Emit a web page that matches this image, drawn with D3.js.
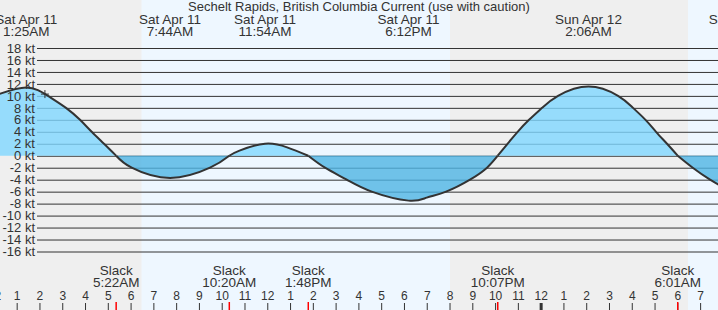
<!DOCTYPE html>
<html lang="en">
	<head>
		<meta charset="utf-8">
		<title>Sechelt Rapids Current</title>
		<script type="text/javascript" src="https://d3js.org/d3.v7.min.js"></script>
		<style type="text/css">
			body {
				margin: 0;
				font-family: "Liberation Sans", Arial, Helvetica, sans-serif;
				background-color: #ffffff;
			}
			text {
				fill: #333;
			}
		</style>
	</head>
	<body>
		<script type="text/javascript">

			//Width and height
			var w = 718;
			var h = 310;

			// Chart title
			var title = "Sechelt Rapids, British Columbia Current (use with caution)";

			// Current readings (hours since Sat 00:00, knots)
			var hours = [0, 1.417, 2.375, 3.165, 3.78, 4.293, 4.833, 5.367, 6.049, 7.733, 9.487, 10.333, 10.78, 11.9, 12.87, 13.8, 14.535, 15.487, 16.585, 18.2, 19.0, 19.85, 20.9, 21.646, 22.117, 22.546, 22.99, 23.49, 24.061, 24.763, 26.1, 27.397, 28.055, 28.604, 29.065, 29.547, 30.017, 30.676, 31.436, 32];
			var knots = [10.0, 11.4, 10, 8, 6, 4, 2, 0, -2, -3.7, -2, 0, 0.85, 2.0, 1.4, 0, -2, -4, -6, -7.5, -7.0, -6, -4, -2, 0, 2, 4, 6, 8, 10, 11.55, 10, 8, 6, 4, 2, 0, -2, -4, -5.2];

			// Max / min events along the top
			var eventHours = [1.417, 7.733, 11.9, 18.2, 26.1, 32.84];
			var eventDays = ["Sat Apr 11", "Sat Apr 11", "Sat Apr 11", "Sat Apr 11", "Sun Apr 12", "Sun Apr 12"];
			var eventTimes = ["1:25AM", "7:44AM", "11:54AM", "6:12PM", "2:06AM", "8:50AM"];

			// Slack water along the bottom
			var slackHours = [5.367, 10.333, 13.8, 22.117, 30.017];
			var slackTimes = ["5:22AM", "10:20AM", "1:48PM", "10:07PM", "6:01AM"];

			// Daylight (sunrise, sunset)
			var dayStart = [6.48, 30.47];
			var dayEnd = [20.02, 34];

			// Y tick values
			var yTicks = d3.range(-16, 19, 2);

			// Now marker (hour, knots)
			var nowHour = 2.24;
			var nowKnots = 10.3;

			var x = d3.scaleLinear()
				.domain([0, 32])
				.range([-6.1, 722.9]);

			var y = d3.scaleLinear()
				.domain([-16, 18])
				.range([251.5, 48]);

			//Create SVG element
			var svg = d3.select("body")
				.append("svg")
				.attr("width", w)
				.attr("height", h);

			// Night background then day bands
			svg.append("rect")
				.attr("width", w)
				.attr("height", h)
				.attr("fill", "#efefef");

			svg.selectAll("rect.day")
				.data(dayStart)
				.enter()
				.append("rect")
				.attr("class", "day")
				.attr("x", function(d) { return x(d); })
				.attr("y", 0)
				.attr("width", function(d, i) { return x(dayEnd[i]) - x(d); })
				.attr("height", h)
				.attr("fill", "#eef7ff");

			// Gridlines (under the fills)
			var grid = svg.append("g")
				.attr("transform", "translate(37,0)")
				.call(d3.axisLeft(y)
					.tickValues(yTicks)
					.tickSize(-(w - 37))
					.tickFormat(""));
			grid.select(".domain").remove();
			grid.selectAll(".tick line")
				.attr("stroke", "#333")
				.attr("stroke-width", 1);

			// Split the readings into flood / ebb arcs at each slack
			var arcs = [];
			var cur = [];
			hours.forEach(function(d, i) {
				cur.push([d, knots[i]]);
				if (knots[i] === 0 && cur.length > 1) {
					arcs.push(cur);
					cur = [[d, 0]];
				}
			});
			if (cur.length > 1) arcs.push(cur);

			var area = d3.area()
				.curve(d3.curveNatural)
				.x(function(d) { return x(d[0]); })
				.y0(y(0))
				.y1(function(d) { return y(d[1]); });

			var line = d3.line()
				.curve(d3.curveNatural)
				.x(function(d) { return x(d[0]); })
				.y(function(d) { return y(d[1]); });

			svg.selectAll("path.arc")
				.data(arcs)
				.enter()
				.append("path")
				.attr("class", "arc")
				.attr("d", area)
				.attr("fill", function(d) {
					return d3.sum(d, function(p) { return p[1]; }) > 0 ? "rgb(128,215,255)" : "rgb(79,180,228)";
				})
				.attr("fill-opacity", 0.8);

			svg.selectAll("path.curve")
				.data(arcs)
				.enter()
				.append("path")
				.attr("class", "curve")
				.attr("d", line)
				.attr("fill", "none")
				.attr("stroke", "#333")
				.attr("stroke-width", 2);

			// Now marker
			var nowX = x(nowHour);
			var nowY = y(nowKnots);
			svg.append("path")
				.attr("d", "M" + (nowX - 4) + "," + nowY + "H" + (nowX + 4) + "M" + nowX + "," + (nowY - 4) + "V" + (nowY + 4))
				.attr("stroke", "#333")
				.attr("stroke-width", 1);

			// Y labels on top
			var yLabels = svg.append("g")
				.attr("transform", "translate(37,0)")
				.call(d3.axisLeft(y)
					.tickValues(yTicks)
					.tickSize(0)
					.tickPadding(2)
					.tickFormat(function(d) { return d + " kt"; }));
			yLabels.select(".domain").remove();
			yLabels.selectAll("text")
				.attr("fill", "#333")
				.attr("font-size", "13px")
				.attr("font-family", "Liberation Sans, Arial, sans-serif");

			// Title
			svg.append("text")
				.attr("x", 359)
				.attr("y", 11)
				.attr("text-anchor", "middle")
				.attr("font-size", "13px")
				.text(title);

			// Event labels
			var ev = svg.selectAll("g.event")
				.data(eventHours)
				.enter()
				.append("g")
				.attr("class", "event")
				.attr("transform", function(d) { return "translate(" + x(d) + ",0)"; });
			ev.append("text")
				.attr("y", 24)
				.attr("text-anchor", "middle")
				.attr("font-size", "13.5px")
				.text(function(d, i) { return eventDays[i]; });
			ev.append("text")
				.attr("y", 36)
				.attr("text-anchor", "middle")
				.attr("font-size", "13.5px")
				.text(function(d, i) { return eventTimes[i]; });

			// Slack labels
			var sl = svg.selectAll("g.slack")
				.data(slackHours)
				.enter()
				.append("g")
				.attr("class", "slack")
				.attr("transform", function(d) { return "translate(" + x(d) + ",0)"; });
			sl.append("text")
				.attr("y", 275)
				.attr("text-anchor", "middle")
				.attr("font-size", "13.5px")
				.text("Slack");
			sl.append("text")
				.attr("y", 287)
				.attr("text-anchor", "middle")
				.attr("font-size", "13.5px")
				.text(function(d, i) { return slackTimes[i]; });

			// Hour axis along the bottom
			var hourAxis = svg.append("g")
				.attr("transform", "translate(0,310)")
				.call(d3.axisTop(x)
					.tickValues(d3.range(0, 33))
					.tickSize(7)
					.tickPadding(3)
					.tickFormat(function(d) { var hr = d % 12; return hr === 0 ? 12 : hr; }));
			hourAxis.select(".domain").remove();
			hourAxis.selectAll(".tick line")
				.attr("stroke", "#333")
				.attr("stroke-width", function(d) { return d === 24 ? 3 : 1; });
			hourAxis.selectAll("text")
				.attr("fill", "#333")
				.attr("font-size", "12px")
				.attr("font-family", "Liberation Sans, Arial, sans-serif");

			// Slack ticks
			svg.selectAll("line.slack")
				.data(slackHours)
				.enter()
				.append("line")
				.attr("class", "slack")
				.attr("x1", function(d) { return x(d); })
				.attr("x2", function(d) { return x(d); })
				.attr("y1", 302)
				.attr("y2", 310)
				.attr("stroke", "red")
				.attr("stroke-width", 1.5);

		</script>
	</body>
</html>
